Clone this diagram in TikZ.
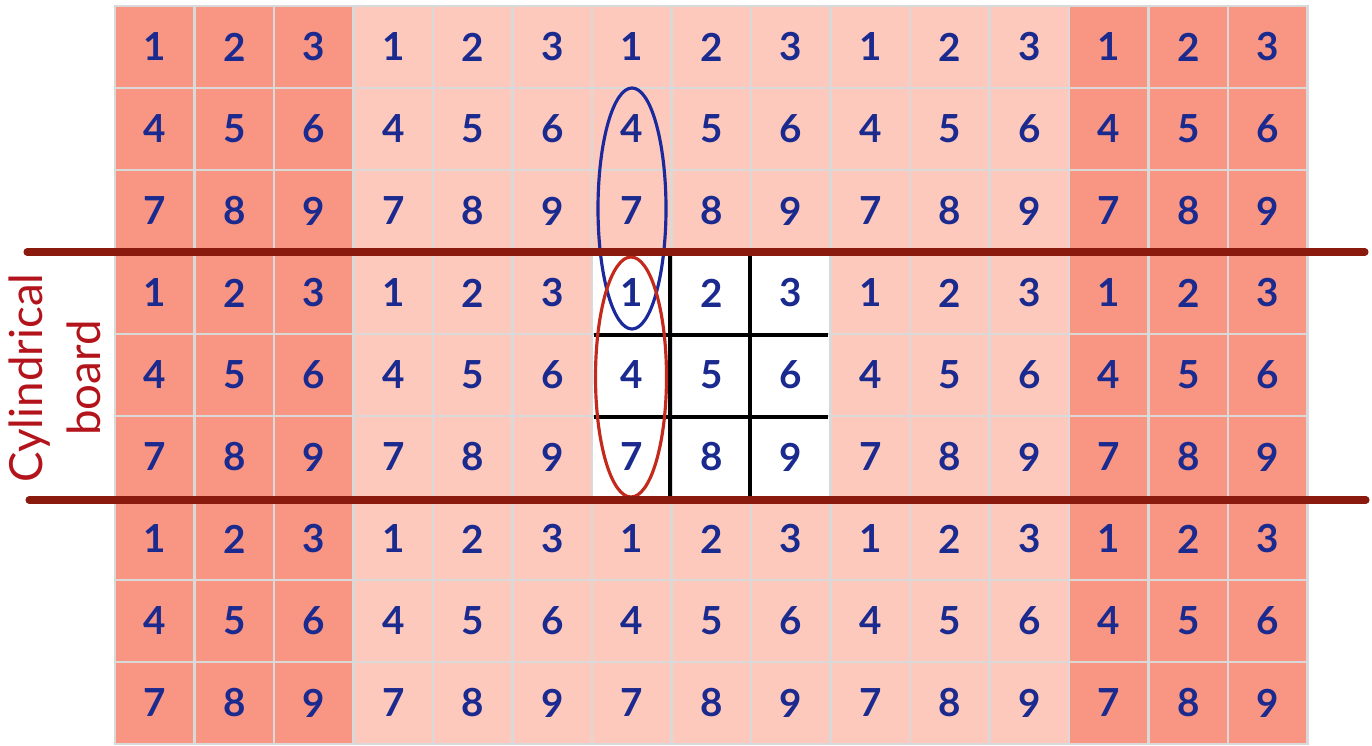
\documentclass[tikz,border=0pt]{standalone}
\usepackage{fontspec}
\setmainfont{Lato}
\usetikzlibrary{positioning}
\definecolor{outerred}{HTML}{F99683}
\definecolor{innerpink}{HTML}{FDC9BD}
\definecolor{digitblue}{HTML}{1B2A8F}
\definecolor{bandred}{HTML}{8B1A0E}
\definecolor{ringred}{HTML}{C42A1C}
\definecolor{ringblue}{HTML}{1A2A9C}
\definecolor{labelred}{HTML}{B3141C}

\begin{document}
\begin{tikzpicture}[x=0.02cm,y=-0.02cm,
  cell/.style={rectangle,draw=gray!30,line width=1.4pt,minimum width=1.59cm,
    minimum height=1.64cm,inner sep=0pt,text=digitblue,font=\fontsize{22}{26}\selectfont\bfseries}
]
  \useasboundingbox (0,0) rectangle (1372,746);

  % the tiled 3x3 boards
  \foreach \c in {0,...,14}{
    \foreach \r in {0,...,8}{
      \pgfmathtruncatemacro{\digit}{3*mod(\r,3)+mod(\c,3)+1}
      \pgfmathtruncatemacro{\isouter}{(\c<3)||(\c>11)}
      \pgfmathtruncatemacro{\ismid}{(\c>5)&&(\c<9)&&(\r>2)&&(\r<6)}
      \ifnum\isouter=1 \def\tone{outerred}\else\ifnum\ismid=1 \def\tone{white}\else\def\tone{innerpink}\fi\fi
      \node[cell,fill=\tone] (c-\c-\r) at ({115+79.5*(\c+0.5)},{6+82*(\r+0.5)}) {\digit};
    }
  }

  % the real board
  \draw[black,line width=2.3pt,shorten <=2pt] (c-7-3.north west) -- (c-7-5.south west);
  \draw[black,line width=2.3pt,shorten <=2pt] (c-8-3.north west) -- (c-8-5.south west);
  \draw[black,line width=2.3pt,shorten <=2pt,shorten >=2pt] (c-6-3.south west) -- (c-8-3.south east);
  \draw[black,line width=2.3pt,shorten <=2pt,shorten >=2pt] (c-6-4.south west) -- (c-8-4.south east);

  % wrap-around neighbours
  \draw[ringblue,line width=1.8pt] (632,208.5) ellipse [x radius=34, y radius=120.5];
  \draw[ringred,line width=1.8pt] (631,377) ellipse [x radius=35.5, y radius=120];

  % cylinder edges
  \coordinate (topl) at (27,252);
  \coordinate (topr) at (1365,252);
  \coordinate (botl) at (29,500);
  \coordinate (botr) at (1366,500);
  \draw[bandred,line width=4pt,line cap=round] (topl) -- (topr);
  \draw[bandred,line width=4pt,line cap=round] (botl) -- (botr);

  \node[rotate=90,align=center,text=labelred,font=\fontsize{26}{33}\selectfont] (lbl) at (55,378) {Cylindrical\\board};
\end{tikzpicture}
\end{document}
